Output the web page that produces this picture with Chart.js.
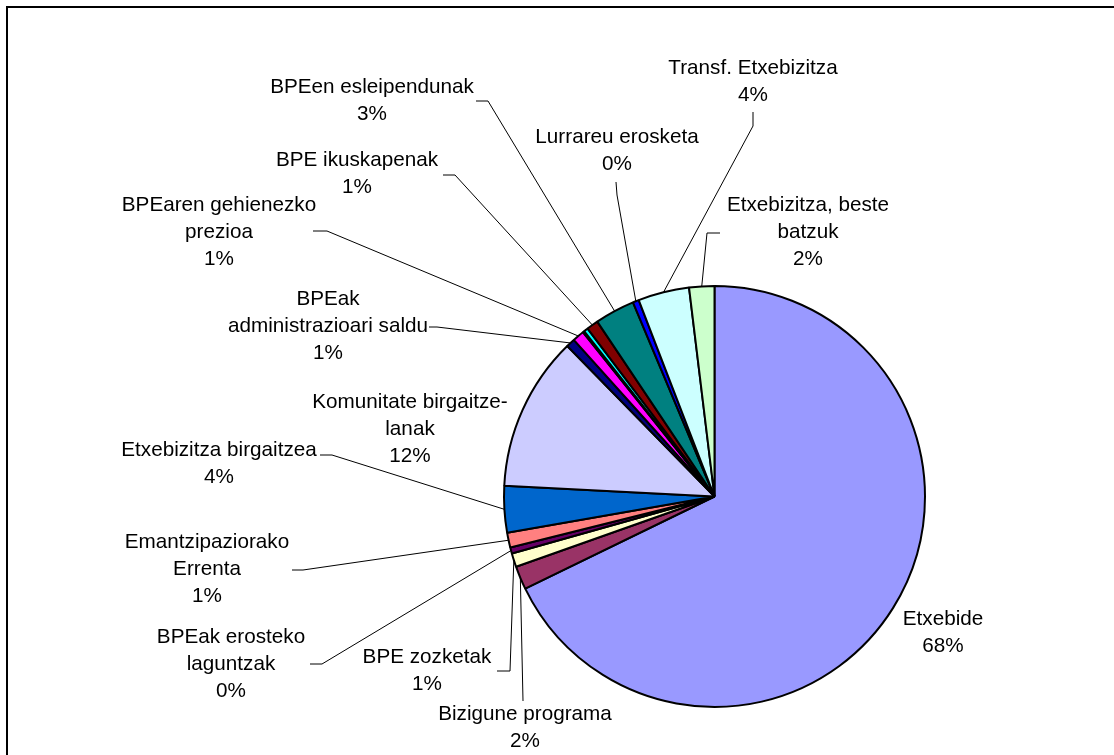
<!DOCTYPE html>
<html>
<head>
<meta charset="utf-8">
<title>Etxebizitza - banaketa</title>
<script src="https://cdn.jsdelivr.net/npm/chart.js@4.4.0/dist/chart.umd.min.js"></script>
<style>
  body { margin: 0; background: #fff; }
  canvas { display: block; }
</style>
</head>
<body>
<canvas id="chart" width="1114" height="755"></canvas>
<script>
// categories, clockwise from 12 o'clock (two tiny slices carry no label in the original)
const categories = [
  ['Etxebide'],
  ['Bizigune programa'],
  ['BPE zozketak'],
  ['BPEak erosteko', 'laguntzak'],
  ['Emantzipaziorako', 'Errenta'],
  ['Etxebizitza birgaitzea'],
  ['Komunitate birgaitze-', 'lanak'],
  ['BPEak', 'administrazioari saldu'],
  ['BPEaren gehienezko', 'prezioa'],
  [],
  [],
  ['BPE ikuskapenak'],
  ['BPEen esleipendunak'],
  ['Lurrareu erosketa'],
  ['Transf. Etxebizitza'],
  ['Etxebizitza, beste', 'batzuk']
];

// share of each slice in percent
const shares = [67.79, 1.8, 1.05, 0.46, 1.14, 3.58, 11.85, 0.68, 0.9, 0.12, 0.33, 0.9, 3.07, 0.47, 3.93, 1.93];

// old Excel chart palette
const sliceColors = [
  '#9999FF', '#993366', '#FFFFCC', '#660066', '#FF8080', '#0066CC', '#CCCCFF', '#000080',
  '#FF00FF', '#FFFF00', '#00FFFF', '#800000', '#008080', '#0000FF', '#CCFFFF', '#CCFFCC'
];

// where each label block sits and the elbow of its leader line
const LINE_H = 27;
const labelLayout = [
  { x: 943, y: 619 },
  { x: 525, y: 714, leader: [[523, 701]] },
  { x: 427, y: 657, leader: [[497, 671], [510, 671]] },
  { x: 231, y: 637, leader: [[310, 664], [322, 664]] },
  { x: 207, y: 542, leader: [[292, 570], [303, 570]] },
  { x: 219, y: 450, leader: [[320, 455], [332, 455]] },
  { x: 410, y: 402 },
  { x: 328, y: 299, leader: [[429, 327], [437, 327]] },
  { x: 219, y: 205, leader: [[313, 231], [327, 231]] },
  null,
  null,
  { x: 357, y: 160, leader: [[443, 175], [455, 175]] },
  { x: 372, y: 87, leader: [[476, 101], [488, 101]] },
  { x: 617, y: 137, leader: [[616, 182], [617, 195]] },
  { x: 753, y: 68, leader: [[753, 112], [753, 126]] },
  { x: 808, y: 205, leader: [[720, 233], [707, 233]] }
];

// frame round the chart plus the data labels with leader lines
const pieLabels = {
  id: 'pieLabels',
  beforeDraw(chart) {
    const ctx = chart.ctx;
    ctx.save();
    ctx.strokeStyle = '#000';
    ctx.lineWidth = 2;
    ctx.strokeRect(7, 7, 1200, 900);
    ctx.restore();
  },
  afterDatasetsDraw(chart) {
    const ctx = chart.ctx;
    const arcs = chart.getDatasetMeta(0).data;
    const total = shares.reduce((a, b) => a + b, 0);
    ctx.save();
    ctx.font = '21px "Liberation Sans", Arial, sans-serif';
    ctx.fillStyle = '#000';
    ctx.strokeStyle = '#000';
    ctx.lineWidth = 1;
    ctx.textAlign = 'center';
    ctx.textBaseline = 'middle';
    labelLayout.forEach((pos, i) => {
      if (!pos) return;
      const lines = categories[i].concat([Math.round(shares[i] / total * 100) + '%']);
      lines.forEach((t, k) => {
        ctx.save();
        ctx.translate(pos.x, pos.y + k * LINE_H);
        ctx.scale(0.985, 1);
        ctx.fillText(t, 0, 0);
        ctx.restore();
      });
      if (pos.leader) {
        // leader ends on the rim at the middle of the slice
        const arc = arcs[i];
        const mid = (arc.startAngle + arc.endAngle) / 2;
        const ex = arc.x + Math.cos(mid) * arc.outerRadius;
        const ey = arc.y + Math.sin(mid) * arc.outerRadius;
        ctx.beginPath();
        ctx.moveTo(pos.leader[0][0], pos.leader[0][1]);
        for (let j = 1; j < pos.leader.length; j++) {
          ctx.lineTo(pos.leader[j][0], pos.leader[j][1]);
        }
        ctx.lineTo(ex, ey);
        ctx.stroke();
      }
    });
    ctx.restore();
  }
};

const ctx = document.getElementById('chart').getContext('2d');
const chart = new Chart(ctx, {
  type: 'pie',
  data: {
    labels: categories,
    datasets: [{
      data: shares,
      backgroundColor: sliceColors,
      borderColor: '#000',
      borderWidth: 2
    }]
  },
  options: {
    responsive: false,
    animation: false,
    layout: {
      padding: { left: 503, right: 188, top: 285, bottom: 47 }
    },
    plugins: {
      legend: { display: false },
      tooltip: { enabled: false }
    }
  },
  plugins: [pieLabels]
});
</script>
</body>
</html>
